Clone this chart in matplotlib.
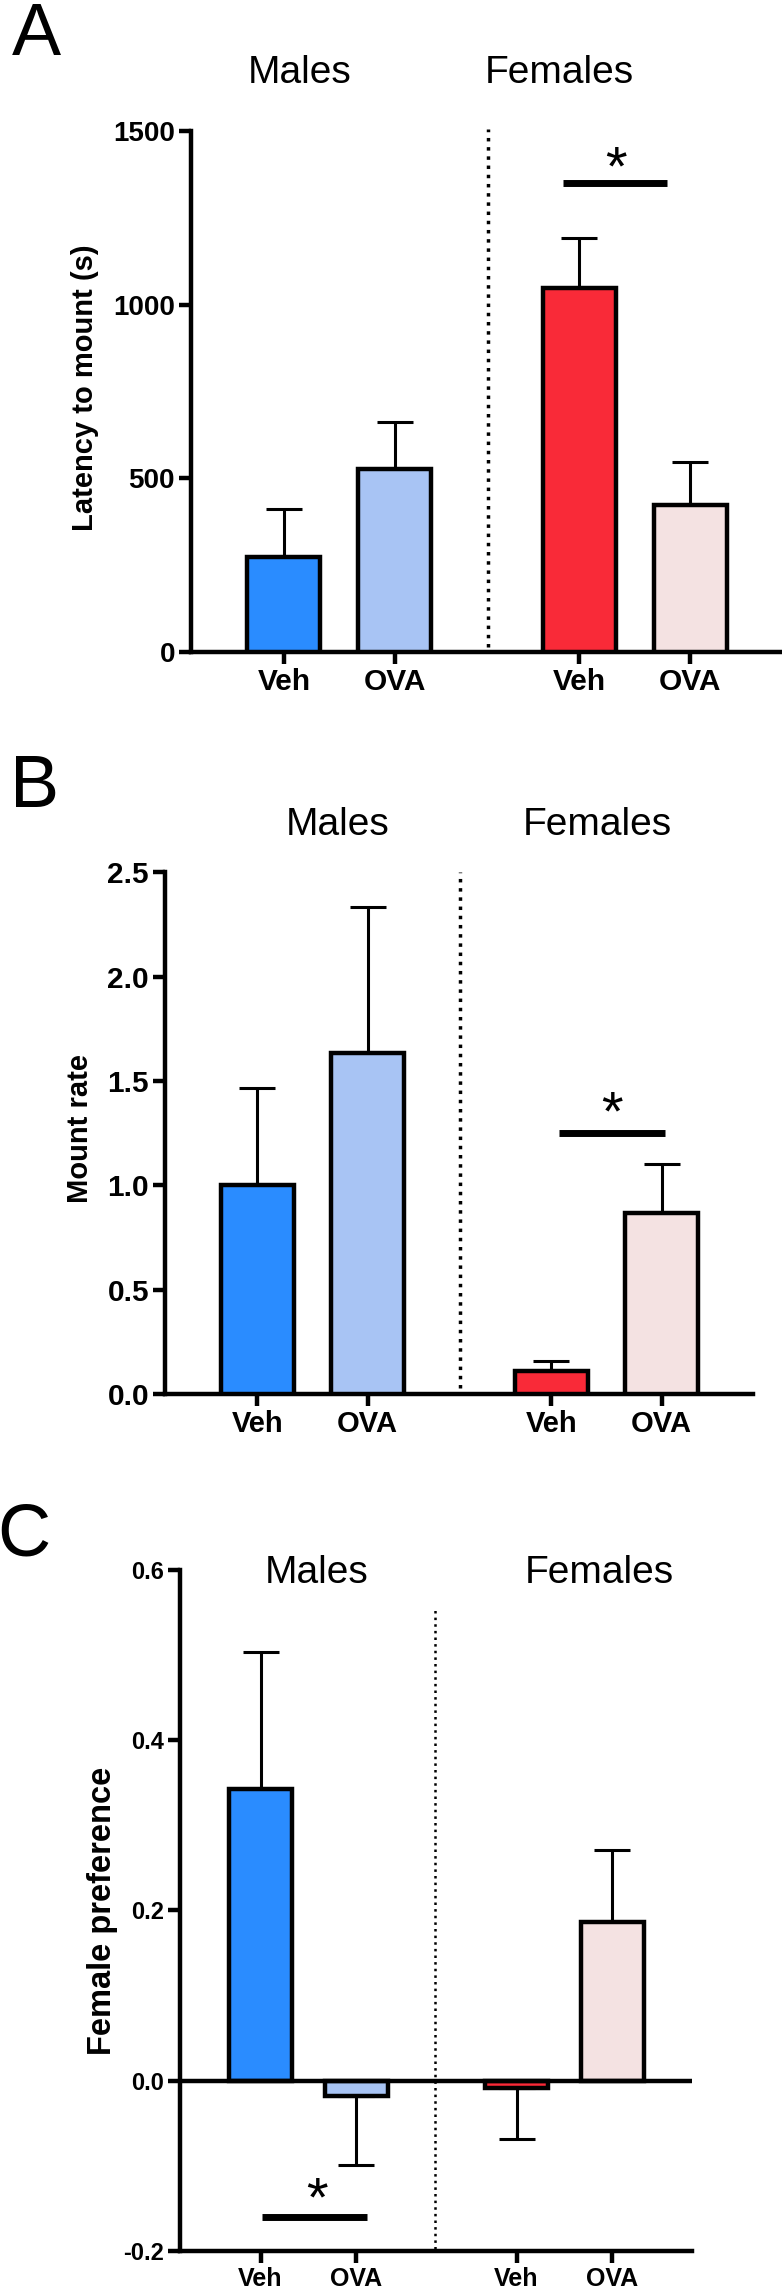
import matplotlib
matplotlib.use("Agg")
import matplotlib.pyplot as plt

plt.rcParams["font.family"] = ["Liberation Sans", "DejaVu Sans"]

# shared layout of the four bars (Males: Veh, OVA | Females: Veh, OVA)
group_labels = ["Veh", "OVA", "Veh", "OVA"]
bar_colors = ["#2a8cff", "#a8c4f4", "#f92a38", "#f4e2e2"]
x_pos = [0, 1, 2.67, 3.67]

# A: latency to mount (s), mean and SEM
latency_mean = [275, 526, 1048, 424]
latency_sem = [136, 137, 144, 123]

# B: mount rate
mount_rate_mean = [1.00, 1.634, 0.109, 0.866]
mount_rate_sem = [0.467, 0.70, 0.05, 0.237]

# C: female preference
preference_mean = [0.343, -0.018, -0.008, 0.187]
preference_sem = [0.160, 0.081, 0.061, 0.084]

BAR_W = 0.66
LW = 3.2


def draw_bars(ax, means, sems):
    ax.bar(x_pos, means, width=BAR_W, color=bar_colors, edgecolor="black",
           linewidth=LW, zorder=3)
    lower = [s if m < 0 else 0 for m, s in zip(means, sems)]
    upper = [s if m >= 0 else 0 for m, s in zip(means, sems)]
    ax.errorbar(x_pos, means, yerr=[lower, upper], fmt="none", ecolor="black",
                elinewidth=2.2, capsize=13, capthick=2.2, zorder=2)


def style_axes(ax, ylim, yticks, yticklabels, ysize, xsize):
    ax.set_xlim(-0.84, 4.5)
    ax.set_ylim(*ylim)
    for side in ("top", "right"):
        ax.spines[side].set_visible(False)
    for side in ("left", "bottom"):
        ax.spines[side].set_linewidth(LW)
    ax.set_yticks(yticks, yticklabels, fontsize=ysize, fontweight="bold")
    ax.set_xticks(x_pos, group_labels, fontsize=xsize, fontweight="bold")
    ax.tick_params(width=LW, length=8.5, pad=3)


def sig_mark(ax, x0, x1, y_line, x_star, y_star):
    ax.plot([x0, x1], [y_line, y_line], color="black", lw=5,
            solid_capstyle="butt", clip_on=False)
    ax.text(x_star, y_star, "*", fontsize=40, ha="center", va="baseline")


fig = plt.figure(figsize=(7.82, 22.91), dpi=100)

# ---- A ----
ax_a = fig.add_axes([0.2442, 0.7154, 0.7558, 0.2274])
draw_bars(ax_a, latency_mean, latency_sem)
style_axes(ax_a, (0, 1500), [0, 500, 1000, 1500], ["0", "500", "1000", "1500"], 20, 21.5)
ax_a.plot([1.84, 1.84], [15, 1505], ls=":", lw=2.5, color="black", clip_on=False)
sig_mark(ax_a, 2.52, 3.46, 1350, 3.0, 1347)
ax_a.text(0.14, 1638, "Males", fontsize=28, ha="center", va="baseline")
ax_a.text(2.49, 1638, "Females", fontsize=28, ha="center", va="baseline")
ax_a.text(-0.179, 0.507, "Latency to mount (s)", rotation=90, fontsize=21,
          fontweight="bold", ha="center", va="center", transform=ax_a.transAxes)
fig.text(0.015, 1 - 55 / 2291, "A", fontsize=53, ha="left", va="baseline")

# ---- B ----
ax_b = fig.add_axes([0.2110, 0.3915, 0.7519, 0.2278])
draw_bars(ax_b, mount_rate_mean, mount_rate_sem)
style_axes(ax_b, (0, 2.5), [0, 0.5, 1.0, 1.5, 2.0, 2.5],
           ["0.0", "0.5", "1.0", "1.5", "2.0", "2.5"], 21.5, 21)
ax_b.plot([1.84, 1.84], [0.03, 2.5], ls=":", lw=2.5, color="black", clip_on=False)
sig_mark(ax_b, 2.74, 3.70, 1.25, 3.22, 1.269)
ax_b.text(0.73, 2.677, "Males", fontsize=28, ha="center", va="baseline")
ax_b.text(3.09, 2.677, "Females", fontsize=28, ha="center", va="baseline")
ax_b.text(-0.145, 0.508, "Mount rate", rotation=90, fontsize=21,
          fontweight="bold", ha="center", va="center", transform=ax_b.transAxes)
fig.text(0.013, 1 - 807 / 2291, "B", fontsize=53, ha="left", va="baseline")

# ---- C ----
ax_c = fig.add_axes([0.2302, 0.01746, 0.6547, 0.2973])
draw_bars(ax_c, preference_mean, preference_sem)
style_axes(ax_c, (-0.2, 0.6), [-0.2, 0.0, 0.2, 0.4, 0.6],
           ["-0.2", "0.0", "0.2", "0.4", "0.6"], 17, 18)
ax_c.axhline(0, color="black", lw=LW, zorder=4)
ax_c.plot([1.82, 1.82], [-0.198, 0.553], ls=":", lw=1.8, color="black", clip_on=False)
sig_mark(ax_c, 0.02, 1.11, -0.16, 0.59, -0.158)
ax_c.text(0.58, 0.585, "Males", fontsize=28, ha="center", va="baseline")
ax_c.text(3.53, 0.585, "Females", fontsize=28, ha="center", va="baseline")
ax_c.text(-0.152, 0.5, "Female preference", rotation=90, fontsize=23.5,
          fontweight="bold", ha="center", va="center", transform=ax_c.transAxes)
fig.text(-0.004, 1 - 1555 / 2291, "C", fontsize=53, ha="left", va="baseline")

fig.savefig("out.png", dpi=100)
